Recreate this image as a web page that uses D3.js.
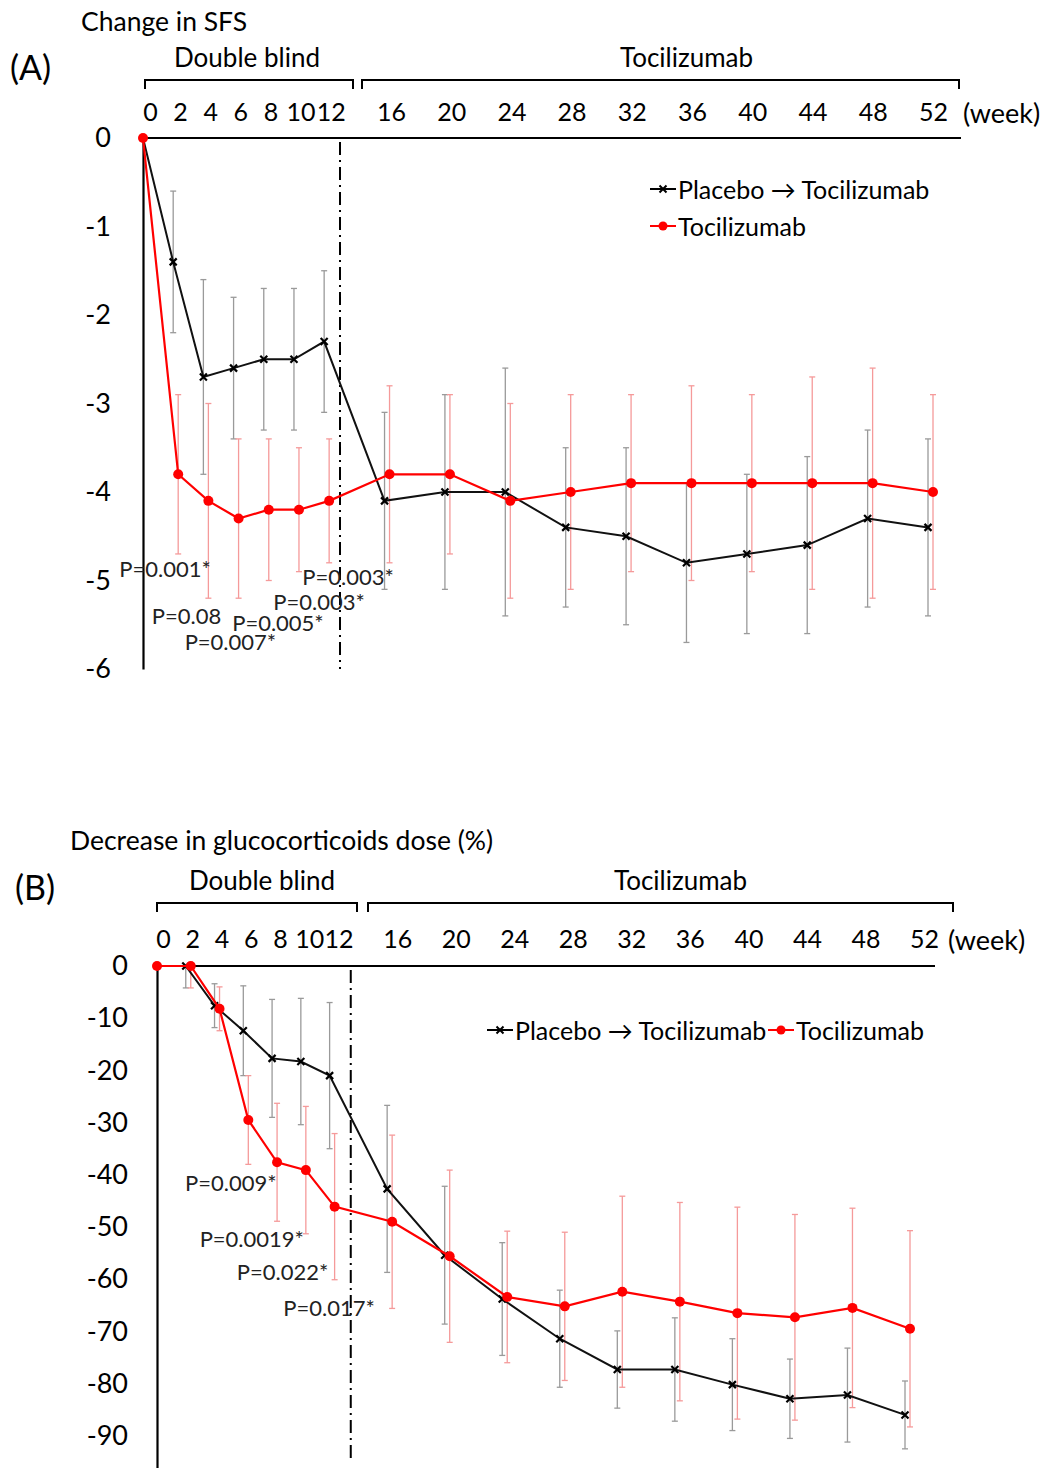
<!DOCTYPE html>
<html lang="en">
<head>
<meta charset="UTF-8">
<title>SFS and glucocorticoid dose</title>
<script src="https://cdn.jsdelivr.net/npm/d3@7"></script>
<style>
    body { margin: 0; background: #fff; }
    svg { display: block; font-family: Lato, "Open Sans", sans-serif; }
</style>
</head>
<body>
<script>
    // ---------- data ----------
    const weeks = [0, 2, 4, 6, 8, 10, 12, 16, 20, 24, 28, 32, 36, 40, 44, 48, 52];
    const tickWeeks = [0, 2, 4, 6, 8, 10, 12, 16, 20, 24, 28, 32, 36, 40, 44, 48, 52];
    const seriesNames = ["Placebo \u2192 Tocilizumab", "Tocilizumab"];

    // (A) change in SFS, mean and SD
    const sfsPlacebo = [0, -1.4, -2.7, -2.6, -2.5, -2.5, -2.3, -4.1, -4.0, -4.0, -4.4, -4.5, -4.8, -4.7, -4.6, -4.3, -4.4];
    const sfsPlaceboErr = [0, 0.8, 1.1, 0.8, 0.8, 0.8, 0.8, 1.0, 1.1, 1.4, 0.9, 1.0, 0.9, 0.9, 1.0, 1.0, 1.0];
    const sfsToci = [0, -3.8, -4.1, -4.3, -4.2, -4.2, -4.1, -3.8, -3.8, -4.1, -4.0, -3.9, -3.9, -3.9, -3.9, -3.9, -4.0];
    const sfsTociErr = [0, 0.9, 1.1, 0.9, 0.8, 0.7, 0.7, 1.0, 0.9, 1.1, 1.1, 1.0, 1.1, 1.0, 1.2, 1.3, 1.1];
    const sfsTicks = [0, -1, -2, -3, -4, -5, -6];
    const sfsPLabels = ["P=0.001*", "P=0.08", "P=0.007*", "P=0.005*", "P=0.003*", "P=0.003*"];
    const sfsPWeek = [1.46, 2.88, 5.79, 8.94, 11.66, 13.58];
    const sfsPValue = [-4.87, -5.39, -5.69, -5.48, -5.24, -4.95];

    // (B) decrease in glucocorticoids dose (%), mean and SD
    const gcPlacebo = [0, 0, -7.6, -12.4, -17.7, -18.3, -21.0, -42.7, -55.4, -63.8, -71.4, -77.3, -77.3, -80.2, -82.9, -82.2, -86.0];
    const gcPlaceboErr = [0, 4.2, 4.2, 8.6, 11.3, 12.1, 14.0, 16.0, 13.2, 10.8, 9.3, 7.4, 9.9, 8.8, 7.6, 9.0, 6.5];
    const gcToci = [0, 0, -8.2, -29.5, -37.6, -39.1, -46.1, -49.0, -55.6, -63.4, -65.2, -62.4, -64.3, -66.5, -67.3, -65.5, -69.5];
    const gcTociErr = [0, 4.2, 4.2, 8.5, 11.3, 12.2, 14.0, 16.6, 16.5, 12.6, 14.2, 18.3, 19.0, 20.3, 19.7, 19.1, 18.8];
    const gcTicks = [0, -10, -20, -30, -40, -50, -60, -70, -80, -90];
    const gcPLabels = ["P=0.009*", "P=0.0019*", "P=0.022*", "P=0.017*"];
    const gcPWeek = [5.13, 6.59, 8.73, 11.96];
    const gcPValue = [-41.5, -52.2, -58.5, -65.4];

    // ---------- drawing ----------
    const W = 1048, H = 1468;
    const svg = d3.select("body").append("svg").attr("width", W).attr("height", H);
    svg.append("rect").attr("width", W).attr("height", H).attr("fill", "#fff");

    const RED = "#ff0000", RED_ERR = "#f59a9a", GREY_ERR = "#9a9a9a";

    function drawPanel(cfg) {
        const g = svg.append("g");
        const x = d3.scaleLinear().domain([0, 52]).range(cfg.xRange);
        const xl = d3.scaleLinear().domain([0, 52]).range(cfg.labelRange);
        const y = d3.scaleLinear().domain(cfg.yDomain).range(cfg.yRange);
        const redX = i => x(weeks[i]) + (weeks[i] > 0 ? cfg.redShift : 0);
        const blackX = i => x(weeks[i]);

        // titles
        g.append("text").attr("x", cfg.titleX).attr("y", cfg.titleY)
            .attr("dominant-baseline", "central").attr("font-size", 26.5).text(cfg.title);
        g.append("text").attr("x", cfg.letterX).attr("y", cfg.letterY)
            .attr("dominant-baseline", "central").attr("font-size", 34).text(cfg.letter);

        // phase brackets
        cfg.brackets.forEach(b => {
            g.append("path")
                .attr("d", `M${b[0]},${cfg.bracketY + 9}V${cfg.bracketY}H${b[1]}V${cfg.bracketY + 9}`)
                .attr("fill", "none").attr("stroke", "#000").attr("stroke-width", 2);
            g.append("text").attr("x", (b[0] + b[1]) / 2 + b[3]).attr("y", cfg.bracketY - 23)
                .attr("text-anchor", "middle").attr("dominant-baseline", "central")
                .attr("font-size", 26).text(b[2]);
        });

        // week labels along the top
        const gx = g.append("g").attr("transform", `translate(0,${cfg.tickY})`)
            .call(d3.axisTop(xl).tickValues(tickWeeks).tickSize(0).tickPadding(0));
        gx.select(".domain").remove();
        gx.attr("font-family", null).attr("font-size", null);
        gx.selectAll("text").attr("dy", "0.35em").attr("font-size", 25).attr("fill", "#000");
        g.append("text").attr("x", cfg.weekX).attr("y", cfg.tickY)
            .attr("dominant-baseline", "central").attr("font-size", 27).text("(week)");

        // horizontal zero line
        g.append("line").attr("x1", x(0)).attr("x2", cfg.zeroEnd)
            .attr("y1", y(0)).attr("y2", y(0)).attr("stroke", "#000").attr("stroke-width", 2.2);

        // y axis
        const gy = g.append("g").attr("transform", `translate(${x(0)},0)`)
            .call(d3.axisLeft(y).tickValues(cfg.yTicks).tickFormat(d => String(d))
                .tickSize(0).tickSizeOuter(0).tickPadding(cfg.yPad));
        gy.attr("font-family", null).attr("font-size", null);
        gy.select(".domain").attr("stroke-width", 2.2);
        gy.selectAll("text").attr("font-size", 27).attr("fill", "#000");

        // switch line
        g.append("line").attr("x1", x(cfg.switchWeek)).attr("x2", x(cfg.switchWeek))
            .attr("y1", y(0) + 4).attr("y2", cfg.switchEnd)
            .attr("stroke", "#000").attr("stroke-width", 2)
            .attr("stroke-dasharray", "13,5,2,5");

        // error bars
        function errBars(vals, errs, xf, color) {
            const eg = g.append("g").attr("stroke", color).attr("stroke-width", 1.3);
            vals.forEach((v, i) => {
                const e = errs[i];
                if (!e) return;
                const top = Math.min(v + e, cfg.yDomain[0]);
                const bot = v - e;
                const cx = xf(i);
                eg.append("line").attr("x1", cx).attr("x2", cx).attr("y1", y(top)).attr("y2", y(bot));
                eg.append("line").attr("x1", cx - 3).attr("x2", cx + 3).attr("y1", y(bot)).attr("y2", y(bot));
                if (top < cfg.yDomain[0])
                    eg.append("line").attr("x1", cx - 3).attr("x2", cx + 3).attr("y1", y(top)).attr("y2", y(top));
            });
        }
        errBars(cfg.placebo, cfg.placeboErr, blackX, GREY_ERR);
        errBars(cfg.toci, cfg.tociErr, redX, RED_ERR);

        // placebo line with x markers
        const lineB = d3.line().x((d, i) => blackX(i)).y(d => y(d));
        g.append("path").datum(cfg.placebo).attr("d", lineB)
            .attr("fill", "none").attr("stroke", "#111").attr("stroke-width", 2);
        g.selectAll(null).data(cfg.placebo.slice(1)).join("path")
            .attr("transform", (d, i) => `translate(${blackX(i + 1)},${y(d)})`)
            .attr("d", "M-3.5,-3.5L3.5,3.5M-3.5,3.5L3.5,-3.5")
            .attr("stroke", "#000").attr("stroke-width", 2.2);

        // tocilizumab line with dots
        const lineR = d3.line().x((d, i) => redX(i)).y(d => y(d));
        g.append("path").datum(cfg.toci).attr("d", lineR)
            .attr("fill", "none").attr("stroke", RED).attr("stroke-width", 2.2);
        g.selectAll(null).data(cfg.toci).join("circle")
            .attr("cx", (d, i) => redX(i)).attr("cy", d => y(d)).attr("r", 5)
            .attr("fill", RED);

        // p-values
        g.selectAll(null).data(cfg.pLabels).join("text")
            .attr("x", (d, i) => x(cfg.pWeek[i])).attr("y", (d, i) => y(cfg.pValue[i]))
            .attr("text-anchor", "middle").attr("dominant-baseline", "central")
            .attr("font-size", 22).attr("fill", "#222").text(d => d);

        // legend
        cfg.legend.forEach((L, k) => {
            const lg = g.append("g").attr("transform", `translate(${L[0]},${L[1]})`);
            const col = k === 0 ? "#000" : RED;
            lg.append("line").attr("x1", 0).attr("x2", 26).attr("stroke", col).attr("stroke-width", 2);
            if (k === 0) lg.append("path").attr("d", "M9.5,-3.5L16.5,3.5M9.5,3.5L16.5,-3.5").attr("stroke", "#000").attr("stroke-width", 2);
            else lg.append("circle").attr("cx", 13).attr("r", 4.5).attr("fill", RED);
            lg.append("text").attr("x", 28).attr("dominant-baseline", "central")
                .attr("font-size", 25).text(seriesNames[k]);
        });
    }

    drawPanel({
        title: "Change in SFS", titleX: 81, titleY: 21,
        letter: "(A)", letterX: 10, letterY: 66,
        bracketY: 80, brackets: [[145, 353, "Double blind", -2], [362, 959, "Tocilizumab", 26]],
        tickY: 112, weekX: 963,
        xRange: [143, 928], labelRange: [150, 933], redShift: 5,
        yDomain: [0, -6], yRange: [138, 669], yTicks: sfsTicks, yPad: 32,
        zeroEnd: 961, switchWeek: 13.05, switchEnd: 669,
        placebo: sfsPlacebo, placeboErr: sfsPlaceboErr, toci: sfsToci, tociErr: sfsTociErr,
        pLabels: sfsPLabels, pWeek: sfsPWeek, pValue: sfsPValue,
        legend: [[650, 189], [650, 226]]
    });

    drawPanel({
        title: "Decrease in glucocorticoids dose (%)", titleX: 70, titleY: 840,
        letter: "(B)", letterX: 15, letterY: 886,
        bracketY: 903, brackets: [[157, 357, "Double blind", 5], [368, 953, "Tocilizumab", 20]],
        tickY: 939, weekX: 948,
        xRange: [157, 905], labelRange: [163, 924], redShift: 5,
        yDomain: [0, -100], yRange: [966, 1488], yTicks: gcTicks, yPad: 29,
        zeroEnd: 935, switchWeek: 13.47, switchEnd: 1462,
        placebo: gcPlacebo, placeboErr: gcPlaceboErr, toci: gcToci, tociErr: gcTociErr,
        pLabels: gcPLabels, pWeek: gcPWeek, pValue: gcPValue,
        legend: [[487, 1030], [768, 1030]]
    });
</script>
</body>
</html>
